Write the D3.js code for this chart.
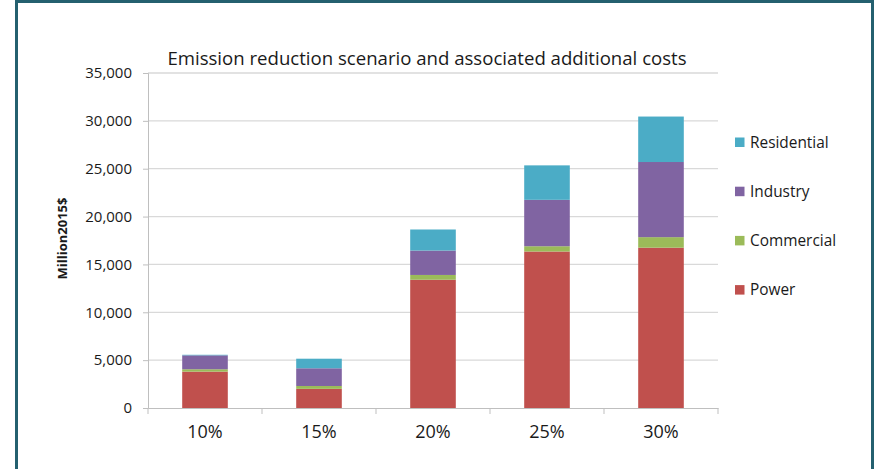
<!DOCTYPE html>
<html>
<head>
<meta charset="utf-8">
<script src="https://cdn.jsdelivr.net/npm/d3@7/dist/d3.min.js"></script>
<style>
  html, body { margin: 0; padding: 0; background: #fff; }
  svg { display: block; font-family: "Open Sans", "DejaVu Sans", sans-serif; }
</style>
</head>
<body>
<svg id="chart" width="876" height="469"></svg>
<script>
// Scenarios and the additional cost of each sector (Million 2015 US$)
const categories = ["10%", "15%", "20%", "25%", "30%"];
const power       = [3800, 2000, 13400, 16350, 16750];
const commercial  = [250,   300,   500,   550,  1100];
const industry    = [1450, 1850,  2550,  4850,  7850];
const residential = [60,   1000,  2200,  3600,  4750];

// Stacking order, bottom to top
const seriesNames  = ["Power", "Commercial", "Industry", "Residential"];
const seriesColors = ["#c0504d", "#9bbb59", "#8064a2", "#4bacc6"];
const yTicks = [0, 5000, 10000, 15000, 20000, 25000, 30000, 35000];

const rows = categories.map((c, i) => ({
  category: c,
  Power: power[i],
  Commercial: commercial[i],
  Industry: industry[i],
  Residential: residential[i]
}));

const svg = d3.select("#chart");

// Outer frame
svg.append("path")
  .attr("d", "M16.5,475 V1.5 H872.5 V475")
  .attr("fill", "none")
  .attr("stroke", "#24606f")
  .attr("stroke-width", 3);

const plot = { left: 148, right: 718, top: 73, bottom: 408 };

const x = d3.scaleBand()
  .domain(categories)
  .range([plot.left, plot.right])
  .paddingInner(0.6)
  .paddingOuter(0.3);

const y = d3.scaleLinear()
  .domain([0, 35000])
  .range([plot.bottom, plot.top]);

const color = d3.scaleOrdinal().domain(seriesNames).range(seriesColors);

// Horizontal gridlines
svg.append("g")
  .selectAll("line")
  .data(yTicks.filter(d => d > 0))
  .join("line")
  .attr("x1", plot.left).attr("x2", plot.right)
  .attr("y1", d => y(d)).attr("y2", d => y(d))
  .attr("stroke", "#d9d9d9")
  .attr("stroke-width", 1.3);

// Stacked bars
const stacked = d3.stack().keys(seriesNames)(rows);
svg.append("g")
  .selectAll("g")
  .data(stacked)
  .join("g")
  .attr("fill", d => color(d.key))
  .selectAll("rect")
  .data(d => d)
  .join("rect")
  .attr("x", d => x(d.data.category))
  .attr("width", x.bandwidth())
  .attr("y", d => y(d[1]))
  .attr("height", d => y(d[0]) - y(d[1]));

// Y axis
const yAxis = svg.append("g")
  .attr("transform", `translate(${plot.left},0)`)
  .call(d3.axisLeft(y).tickValues(yTicks).tickFormat(d3.format(",")).tickSize(5).tickPadding(11));
yAxis.select(".domain").attr("stroke", "#bfbfbf");
yAxis.selectAll(".tick line").attr("stroke", "#bfbfbf");
yAxis.selectAll(".tick text")
  .attr("font-size", 15)
  .attr("fill", "#1a1a1a")
  .attr("font-family", "'Open Sans', sans-serif");

// X axis: labels under each bar, tick marks between categories
const xAxis = svg.append("g")
  .attr("transform", `translate(0,${plot.bottom})`)
  .call(d3.axisBottom(x).tickSize(0).tickPadding(17));
xAxis.select(".domain").attr("stroke", "#bfbfbf");
xAxis.selectAll(".tick text")
  .attr("font-size", 18)
  .attr("fill", "#1a1a1a")
  .attr("font-family", "'Open Sans', sans-serif");

const boundaries = d3.range(categories.length + 1).map(i => plot.left + i * x.step());
svg.append("g")
  .selectAll("line")
  .data(boundaries)
  .join("line")
  .attr("x1", d => d).attr("x2", d => d)
  .attr("y1", plot.bottom).attr("y2", plot.bottom + 6)
  .attr("stroke", "#bfbfbf");

// Y axis title
svg.append("text")
  .attr("transform", "translate(67,238.5) rotate(-90)")
  .attr("text-anchor", "middle")
  .attr("font-size", 13)
  .attr("font-weight", "bold")
  .attr("fill", "#1a1a1a")
  .text("Million2015$");

// Chart title
svg.append("text")
  .attr("x", 427)
  .attr("y", 65)
  .attr("text-anchor", "middle")
  .attr("font-size", 18.6)
  .attr("fill", "#1a1a1a")
  .text("Emission reduction scenario and associated additional costs");

// Legend (top of stack first)
const legendItems = seriesNames.slice().reverse();
const legend = svg.append("g")
  .selectAll("g")
  .data(legendItems)
  .join("g")
  .attr("transform", (d, i) => `translate(735,${142.5 + i * 49.2})`);
legend.append("rect")
  .attr("x", 0).attr("y", -5)
  .attr("width", 9.5).attr("height", 9.5)
  .attr("fill", d => color(d));
legend.append("text")
  .attr("x", 15)
  .attr("dy", "0.35em")
  .attr("font-size", 15.4)
  .attr("fill", "#1a1a1a")
  .text(d => d);
</script>
</body>
</html>
